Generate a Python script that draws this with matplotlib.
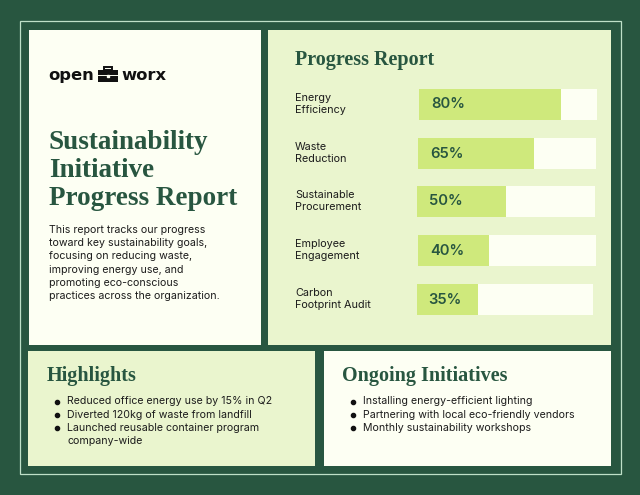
import matplotlib
matplotlib.use("Agg")
import matplotlib.pyplot as plt
from matplotlib.patches import Rectangle

W, H = 640, 495
DARK = "#285640"
CREAM = "#FDFFF3"
PALE = "#EAF5CE"
LIME = "#CFE97C"
INK = "#1C1C1C"
SANS = ["Inter", "DejaVu Sans"]
SERIF = ["Liberation Serif", "DejaVu Serif"]

report_title = ["Sustainability", "Initiative", "Progress Report"]
intro = ["This report tracks our progress", "toward key sustainability goals,",
         "focusing on reducing waste,", "improving energy use, and",
         "promoting eco-conscious", "practices across the organization."]
metrics = ["Energy\nEfficiency", "Waste\nReduction", "Sustainable\nProcurement",
           "Employee\nEngagement", "Carbon\nFootprint Audit"]
progress = [80, 65, 50, 40, 35]
highlights = ["Reduced office energy use by 15% in Q2",
              "Diverted 120kg of waste from landfill",
              "Launched reusable container program\ncompany-wide"]
initiatives = ["Installing energy-efficient lighting",
               "Partnering with local eco-friendly vendors",
               "Monthly sustainability workshops"]

fig = plt.figure(figsize=(W / 100, H / 100), dpi=100, facecolor=DARK)
bg = fig.add_axes([0, 0, 1, 1])
bg.set_xlim(0, W)
bg.set_ylim(H, 0)
bg.axis("off")

def panel(x0, y0, x1, y1, color):
    bg.add_patch(Rectangle((x0, y0), x1 - x0, y1 - y0, fc=color, ec="none"))

bg.add_patch(Rectangle((19.5, 20.5), 601, 453, fc="none", ec="#BFE0C8", lw=0.9))
panel(29, 30, 261, 345, CREAM)
panel(268, 30, 611, 345, PALE)
panel(28, 351, 315, 466, PALE)
panel(324, 351, 611, 466, CREAM)

# logo
for x, word in [(48.5, "open"), (121, "worx")]:
    bg.text(x, 80, word, fontsize=11.8, fontweight="bold", family="DejaVu Sans",
            color="#111111", va="baseline", ha="left")
panel(98, 70, 118, 82, "#111111")
bg.add_patch(Rectangle((104, 66.5), 8, 3.5, fc="none", ec="#111111", lw=1.4))
bg.plot([98, 118], [75, 75], color=CREAM, lw=0.7)
bg.plot([108], [75.5], "s", ms=2, color=CREAM)

for i, line in enumerate(report_title):
    bg.text(49, 149 + i * 27.8, line, fontsize=19.5, fontweight="bold", family=SERIF,
            color=DARK, va="baseline", ha="left")
for i, line in enumerate(intro):
    bg.text(49, 230 + i * 13.2, line, fontsize=7.65, family=SANS, color=INK,
            va="center", ha="left")

bg.text(295, 59.5, "Progress Report", fontsize=14.5, fontweight="bold", family=SERIF,
        color=DARK, va="center", ha="left")

tracks = [(419, 597, 89, 120), (418, 596, 138, 169), (417, 595, 186, 216.5),
          (418, 596, 235, 266), (416.5, 593, 284, 315)]
label_y = [104, 153, 201, 250, 299]
for name, value, (x0, x1, y0, y1), ly in zip(metrics, progress, tracks, label_y):
    ax = fig.add_axes([x0 / W, 1 - y1 / H, (x1 - x0) / W, (y1 - y0) / H])
    ax.set_xlim(0, 100)
    ax.set_ylim(0, 1)
    ax.axis("off")
    ax.barh(0.5, 100, height=1, color=CREAM)
    ax.barh(0.5, value, height=1, color=LIME)
    ax.text(6.7, 0.5, f"{value}%", fontsize=10.6, fontweight="semibold", family=SANS,
            color=DARK, va="center", ha="left")
    bg.text(295, ly, name, fontsize=7.8, family=SANS, color=INK, va="center",
            ha="left", linespacing=1.25)

def bullets(x, items, start):
    row = 0
    for item in items:
        bg.plot([x], [start + row * 13.1], "o", ms=3, color="#111111")
        for part in item.split("\n"):
            bg.text(x + 10.5, start + row * 13.1, part, fontsize=7.65, family=SANS,
                    color=INK, va="center", ha="left")
            row += 1

bg.text(46.5, 375.5, "Highlights", fontsize=14.5, fontweight="bold", family=SERIF,
        color=DARK, va="center", ha="left")
bullets(56.5, highlights, 401.5)
bg.text(342, 375.5, "Ongoing Initiatives", fontsize=14.5, fontweight="bold", family=SERIF,
        color=DARK, va="center", ha="left")
bullets(352.5, initiatives, 401.5)

bg.set_xlim(0, W)
bg.set_ylim(H, 0)
fig.savefig("out.png", dpi=100, facecolor=DARK)
